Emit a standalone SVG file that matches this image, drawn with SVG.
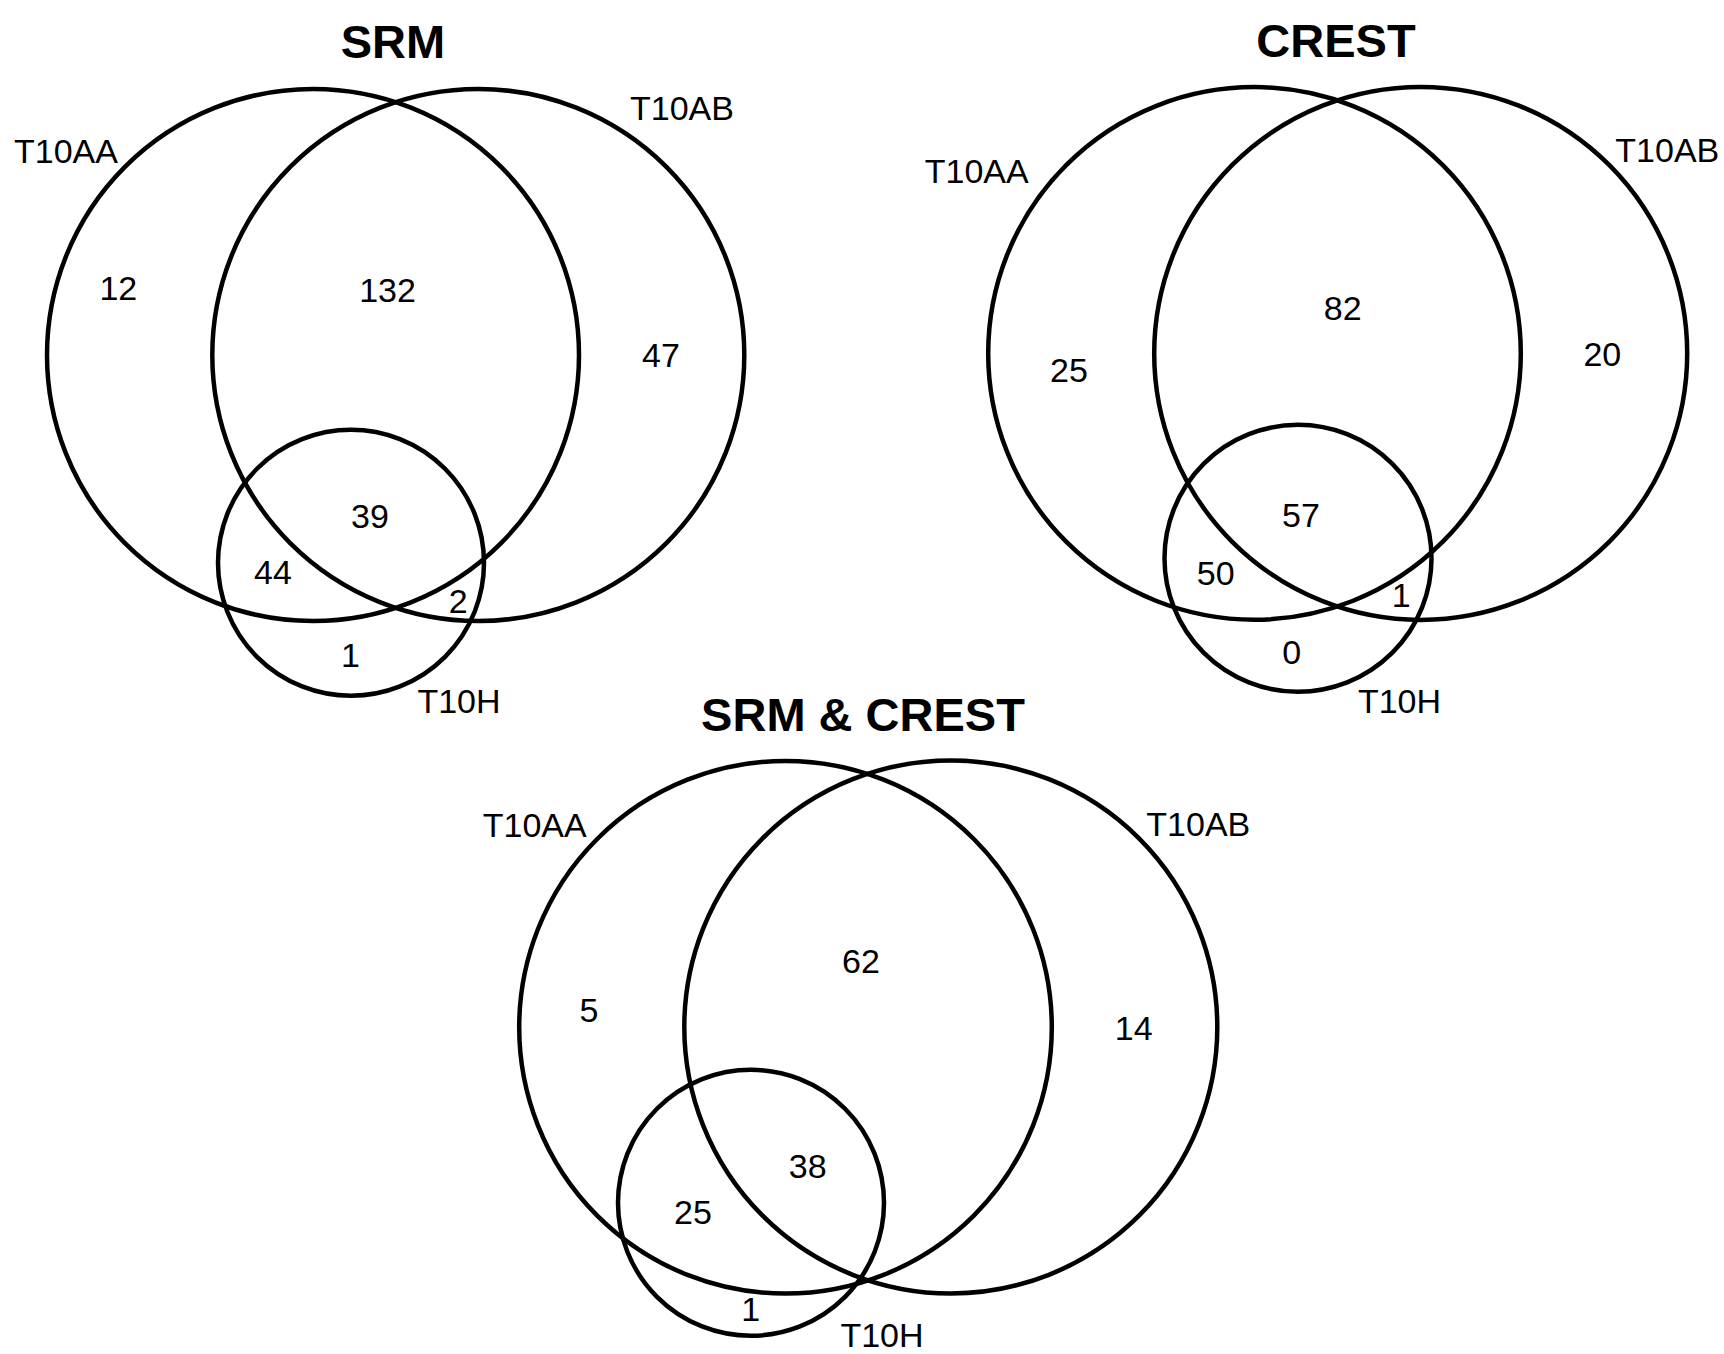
<svg xmlns="http://www.w3.org/2000/svg" width="1724" height="1354" viewBox="0 0 1724 1354">
<style>
.set{fill:none;stroke:#000;stroke-width:4.5}
.title{font-family:"Liberation Sans",Arial,sans-serif;font-weight:bold;font-size:47px;text-anchor:middle;fill:#000}
.lbl{font-family:"Liberation Sans",Arial,sans-serif;font-size:34px;text-anchor:middle;fill:#000}
.num{font-family:"Liberation Sans",Arial,sans-serif;font-size:34px;text-anchor:middle;fill:#000}
</style>
<rect width="1724" height="1354" fill="#fff"/>
<g id="panel-srm">
<text class="title" x="393" y="58">SRM</text>
<g id="srm-t10aa"><circle class="set" cx="313" cy="355" r="266"/><text class="lbl" x="66" y="162.5">T10AA</text></g>
<g id="srm-t10ab"><circle class="set" cx="478.3" cy="355" r="266"/><text class="lbl" x="682" y="119.5">T10AB</text></g>
<g id="srm-t10h"><circle class="set" cx="351" cy="562.8" r="133"/><text class="lbl" x="459" y="713">T10H</text></g>
<g id="srm-counts">
<text class="num" x="118.3" y="300">12</text>
<text class="num" x="387.5" y="301.5">132</text>
<text class="num" x="661" y="367">47</text>
<text class="num" x="370" y="527.5">39</text>
<text class="num" x="273" y="584">44</text>
<text class="num" x="458.3" y="613">2</text>
<text class="num" x="350.5" y="666.5">1</text>
</g>
</g>
<g id="panel-crest">
<text class="title" x="1336" y="57">CREST</text>
<g id="crest-t10aa"><circle class="set" cx="1254.5" cy="353.4" r="266.3"/><text class="lbl" x="976.7" y="182.7">T10AA</text></g>
<g id="crest-t10ab"><circle class="set" cx="1420.7" cy="353.4" r="266.5"/><text class="lbl" x="1667.3" y="161.7">T10AB</text></g>
<g id="crest-t10h"><circle class="set" cx="1298" cy="558.3" r="133.5"/><text class="lbl" x="1399.5" y="713.3">T10H</text></g>
<g id="crest-counts">
<text class="num" x="1069" y="381.7">25</text>
<text class="num" x="1342.7" y="320">82</text>
<text class="num" x="1602.3" y="366">20</text>
<text class="num" x="1301" y="527.3">57</text>
<text class="num" x="1215.7" y="585">50</text>
<text class="num" x="1401.3" y="607.3">1</text>
<text class="num" x="1291.7" y="664">0</text>
</g>
</g>
<g id="panel-both">
<text class="title" x="863" y="730.7">SRM &amp; CREST</text>
<g id="both-t10aa"><circle class="set" cx="785.5" cy="1027.3" r="266.3"/><text class="lbl" x="534.7" y="836.7">T10AA</text></g>
<g id="both-t10ab"><circle class="set" cx="950.8" cy="1027" r="266.5"/><text class="lbl" x="1198.3" y="836">T10AB</text></g>
<g id="both-t10h"><circle class="set" cx="751" cy="1202.8" r="133"/><text class="lbl" x="882" y="1347.3">T10H</text></g>
<g id="both-counts">
<text class="num" x="589" y="1021.7">5</text>
<text class="num" x="861" y="973.3">62</text>
<text class="num" x="1133.7" y="1040">14</text>
<text class="num" x="807.7" y="1178">38</text>
<text class="num" x="693" y="1224">25</text>
<text class="num" x="750.8" y="1321.3">1</text>
</g>
</g>
<g id="connectors"/>
</svg>
